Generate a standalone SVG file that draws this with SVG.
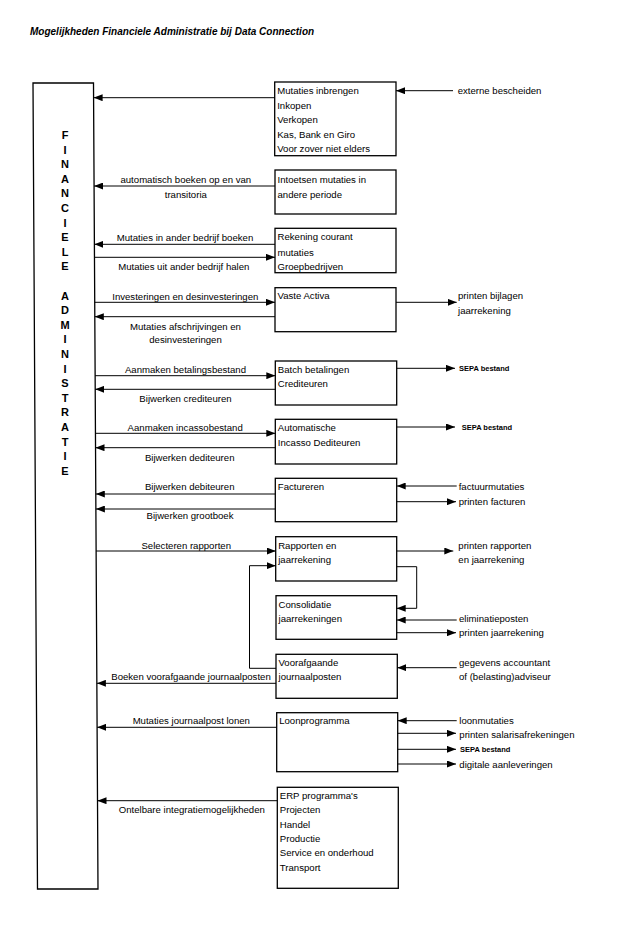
<svg xmlns="http://www.w3.org/2000/svg" width="620" height="951" viewBox="0 0 620 951">
<style>
text{font-family:"Liberation Sans",Arial,sans-serif;fill:#000}
.t{font-size:9.6px}
.m{text-anchor:middle}
.v{font-size:11px;font-weight:bold;text-anchor:middle}
.s{font-size:7.5px;font-weight:bold}
.ttl{font-size:10px;font-weight:bold;font-style:italic}
.box{fill:#fff;stroke:#000;stroke-width:1.3}
.c{fill:none;stroke:#000;stroke-width:1}
</style>
<defs>
<marker id="ah" markerUnits="userSpaceOnUse" markerWidth="9" markerHeight="7" refX="9" refY="3.5" orient="auto">
<path d="M0,0 L9,3.5 L0,7 z" fill="#000"/>
</marker>
</defs>
<rect width="620" height="951" fill="#fff"/>
<text class="ttl" x="30" y="35">Mogelijkheden Financiele Administratie bij Data Connection</text>

<g id="fa">
<polygon class="box" points="33,83 93.5,83 98,889 37.5,889"/>
<text class="v" x="65" y="139">F</text>
<text class="v" x="65" y="153.6">I</text>
<text class="v" x="65" y="168.2">N</text>
<text class="v" x="65" y="182.8">A</text>
<text class="v" x="65" y="197.4">N</text>
<text class="v" x="65" y="212">C</text>
<text class="v" x="65" y="226.6">I</text>
<text class="v" x="65" y="241.2">E</text>
<text class="v" x="65" y="255.8">L</text>
<text class="v" x="65" y="270.4">E</text>
<text class="v" x="65" y="299.6">A</text>
<text class="v" x="65" y="314.2">D</text>
<text class="v" x="65" y="328.8">M</text>
<text class="v" x="65" y="343.4">I</text>
<text class="v" x="65" y="358">N</text>
<text class="v" x="65" y="372.6">I</text>
<text class="v" x="65" y="387.2">S</text>
<text class="v" x="65" y="401.8">T</text>
<text class="v" x="65" y="416.4">R</text>
<text class="v" x="65" y="431">A</text>
<text class="v" x="65" y="445.6">T</text>
<text class="v" x="65" y="460.2">I</text>
<text class="v" x="65" y="474.8">E</text>
</g>

<g id="b1">
<rect class="box" x="274.7" y="82" width="121.3" height="73.7"/>
<text class="t" x="277.2" y="94.2">Mutaties inbrengen</text>
<text class="t" x="277.2" y="108.6">Inkopen</text>
<text class="t" x="277.2" y="123.2">Verkopen</text>
<text class="t" x="277.2" y="137.8">Kas, Bank en Giro</text>
<text class="t" x="277.2" y="152.4">Voor zover niet elders</text>
</g>
<g id="b2">
<rect class="box" x="275" y="170" width="121" height="44"/>
<text class="t" x="277.5" y="182.5">Intoetsen mutaties in</text>
<text class="t" x="277.5" y="197.5">andere periode</text>
</g>
<g id="b3">
<rect class="box" x="275" y="228.3" width="121" height="44.4"/>
<text class="t" x="277.5" y="240.2">Rekening courant</text>
<text class="t" x="277.5" y="255.8">mutaties</text>
<text class="t" x="277.5" y="269.5">Groepbedrijven</text>
</g>
<g id="b4">
<rect class="box" x="275" y="287.7" width="121" height="44"/>
<text class="t" x="277.5" y="299.2">Vaste Activa</text>
</g>
<g id="b5">
<rect class="box" x="275.3" y="361" width="121.4" height="44"/>
<text class="t" x="277.8" y="372.8">Batch betalingen</text>
<text class="t" x="277.8" y="387.2">Crediteuren</text>
</g>
<g id="b6">
<rect class="box" x="275.3" y="419.3" width="121.4" height="44.7"/>
<text class="t" x="277.8" y="431.2">Automatische</text>
<text class="t" x="277.8" y="445.8">Incasso Dediteuren</text>
</g>
<g id="b7">
<rect class="box" x="275.3" y="478.3" width="121.4" height="43.4"/>
<text class="t" x="277.8" y="490.2">Factureren</text>
</g>
<g id="b8">
<rect class="box" x="275.7" y="536.7" width="121" height="44.3"/>
<text class="t" x="278.2" y="548.5">Rapporten en</text>
<text class="t" x="278.2" y="562.8">jaarrekening</text>
</g>
<g id="b9">
<rect class="box" x="276" y="595.7" width="120.7" height="43.6"/>
<text class="t" x="278.5" y="607.5">Consolidatie</text>
<text class="t" x="278.5" y="622.2">jaarrekeningen</text>
</g>
<g id="b10">
<rect class="box" x="276" y="654.3" width="121.3" height="44"/>
<text class="t" x="278.5" y="666.2">Voorafgaande</text>
<text class="t" x="278.5" y="680.2">journaalposten</text>
</g>
<g id="b11">
<rect class="box" x="276.7" y="712.7" width="121" height="59"/>
<text class="t" x="279.2" y="724.2">Loonprogramma</text>
</g>
<g id="b12">
<rect class="box" x="277.3" y="787.3" width="121" height="101"/>
<text class="t" x="279.8" y="798.5">ERP programma's</text>
<text class="t" x="279.8" y="812.8">Projecten</text>
<text class="t" x="279.8" y="827.5">Handel</text>
<text class="t" x="279.8" y="841.8">Productie</text>
<text class="t" x="279.8" y="856.2">Service en onderhoud</text>
<text class="t" x="279.8" y="870.8">Transport</text>
</g>

<g id="connectors">
<path class="c" marker-end="url(#ah)" d="M274.7,97.7 H93.6"/>
<path class="c" marker-end="url(#ah)" d="M275,186 H94.1"/>
<path class="c" marker-end="url(#ah)" d="M275,244.3 H94.4"/>
<path class="c" marker-end="url(#ah)" d="M94.5,257.3 H275"/>
<path class="c" marker-end="url(#ah)" d="M94.7,302.3 H275"/>
<path class="c" marker-end="url(#ah)" d="M275,316.7 H94.8"/>
<path class="c" marker-end="url(#ah)" d="M95.1,375.7 H275.3"/>
<path class="c" marker-end="url(#ah)" d="M275.3,389.3 H95.2"/>
<path class="c" marker-end="url(#ah)" d="M95.5,433.3 H275.3"/>
<path class="c" marker-end="url(#ah)" d="M275.3,447.7 H95.5"/>
<path class="c" marker-end="url(#ah)" d="M275.3,494 H95.8"/>
<path class="c" marker-end="url(#ah)" d="M275.3,509 H95.9"/>
<path class="c" marker-end="url(#ah)" d="M96.1,551 H275.7"/>
<path class="c" marker-end="url(#ah)" d="M276,683.3 H96.9"/>
<path class="c" marker-end="url(#ah)" d="M276.7,727.3 H97.1"/>
<path class="c" marker-end="url(#ah)" d="M277.3,800.7 H97.5"/>

<path class="c" marker-end="url(#ah)" d="M453,90.7 H396"/>
<path class="c" marker-end="url(#ah)" d="M396,302.3 H456.7"/>
<path class="c" marker-end="url(#ah)" d="M396.7,368.3 H455"/>
<path class="c" marker-end="url(#ah)" d="M396.7,427 H455"/>
<path class="c" marker-end="url(#ah)" d="M456.7,486 H396.7"/>
<path class="c" marker-end="url(#ah)" d="M396.7,501.7 H456"/>
<path class="c" marker-end="url(#ah)" d="M396.7,551 H453.3"/>
<path class="c" marker-end="url(#ah)" d="M396.7,566.7 H416.7 V608.3 H396.7"/>
<path class="c" marker-end="url(#ah)" d="M456.7,620 H396.7"/>
<path class="c" marker-end="url(#ah)" d="M396.7,632.7 H456"/>
<path class="c" marker-end="url(#ah)" d="M456.7,667.7 H397.3"/>
<path class="c" marker-end="url(#ah)" d="M276,668.3 H249.5 V565.7 H275.7"/>
<path class="c" marker-end="url(#ah)" d="M456.7,720.7 H397.7"/>
<path class="c" marker-end="url(#ah)" d="M397.7,733.3 H456"/>
<path class="c" marker-end="url(#ah)" d="M397.7,749.3 H456"/>
<path class="c" marker-end="url(#ah)" d="M397.7,764 H456"/>

<text class="t m" x="185.8" y="182.8">automatisch boeken op en van</text>
<text class="t m" x="185.8" y="197.5">transitoria</text>
<text class="t m" x="185" y="240.8">Mutaties in ander bedrijf boeken</text>
<text class="t m" x="183.8" y="270.2">Mutaties uit ander bedrijf halen</text>
<text class="t m" x="185.3" y="299.5">Investeringen en desinvesteringen</text>
<text class="t m" x="185.5" y="330.2">Mutaties afschrijvingen en</text>
<text class="t m" x="185.5" y="342.8">desinvesteringen</text>
<text class="t m" x="185.5" y="372.8">Aanmaken betalingsbestand</text>
<text class="t m" x="185.5" y="401.8">Bijwerken crediteuren</text>
<text class="t m" x="185.2" y="431.2">Aanmaken incassobestand</text>
<text class="t m" x="189.7" y="460.8">Bijwerken dediteuren</text>
<text class="t m" x="189.7" y="490.2">Bijwerken debiteuren</text>
<text class="t m" x="190" y="519.2">Bijwerken grootboek</text>
<text class="t m" x="186.2" y="549.2">Selecteren rapporten</text>
<text class="t m" x="191" y="680.2">Boeken voorafgaande journaalposten</text>
<text class="t m" x="191.3" y="724.2">Mutaties journaalpost lonen</text>
<text class="t m" x="191.8" y="812.8">Ontelbare integratiemogelijkheden</text>

<text class="t" x="457.7" y="94.2">externe bescheiden</text>
<text class="t" x="458" y="299.2">printen bijlagen</text>
<text class="t" x="458" y="313.5">jaarrekening</text>
<text class="s" x="459" y="371">SEPA bestand</text>
<text class="s" x="461.7" y="429.7">SEPA bestand</text>
<text class="t" x="458.7" y="489.5">factuurmutaties</text>
<text class="t" x="458.7" y="505.2">printen facturen</text>
<text class="t" x="458.3" y="548.5">printen rapporten</text>
<text class="t" x="458.3" y="562.8">en jaarrekening</text>
<text class="t" x="459" y="622.2">eliminatieposten</text>
<text class="t" x="459" y="636.2">printen jaarrekening</text>
<text class="t" x="459" y="665.8">gegevens accountant</text>
<text class="t" x="459" y="680.2">of (belasting)adviseur</text>
<text class="t" x="459.3" y="724.2">loonmutaties</text>
<text class="t" x="459.3" y="737.8">printen salarisafrekeningen</text>
<text class="s" x="460" y="752">SEPA bestand</text>
<text class="t" x="459.3" y="767.8">digitale aanleveringen</text>
</g>
</svg>
